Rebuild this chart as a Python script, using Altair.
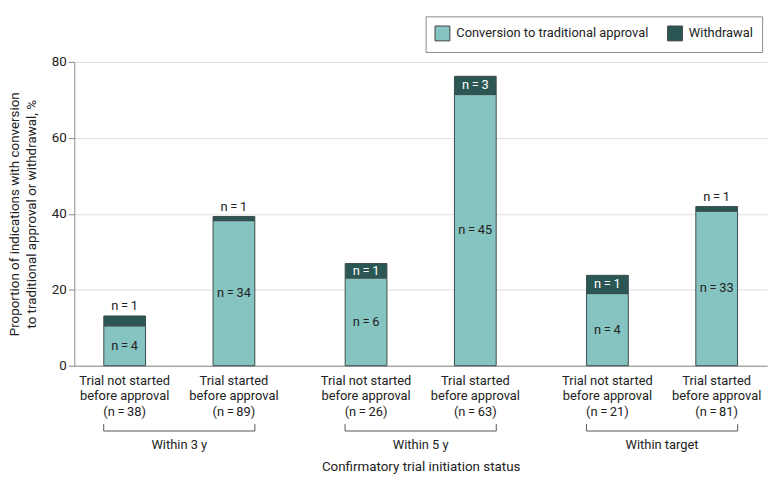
import altair as alt
import pandas as pd

FONT = "Roboto"

groups = ["Within 3 y", "Within 3 y", "Within 5 y", "Within 5 y", "Within target", "Within target"]
status = ["Not started", "Started", "Not started", "Started", "Not started", "Started"]
status_labels = [
    "Trial not started\nbefore approval\n(n\u2009=\u200938)",
    "Trial started\nbefore approval\n(n\u2009=\u200989)",
    "Trial not started\nbefore approval\n(n\u2009=\u200926)",
    "Trial started\nbefore approval\n(n\u2009=\u200963)",
    "Trial not started\nbefore approval\n(n\u2009=\u200921)",
    "Trial started\nbefore approval\n(n\u2009=\u200981)",
]
conversion_pct = [10.5, 38.2, 23.1, 71.4, 19.0, 40.7]
withdrawal_pct = [2.6, 1.1, 3.8, 4.8, 4.8, 1.2]
conversion_n = [4, 34, 6, 45, 4, 33]
withdrawal_n = [1, 1, 1, 3, 1, 1]
withdrawal_label_inside = [False, False, True, True, True, False]

outcomes = ["Conversion to traditional approval", "Withdrawal"]
colors = ["#86C4C1", "#2A5654"]
group_order = ["Within 3 y", "Within 5 y", "Within target"]
status_order = ["Not started", "Started"]

bars = pd.DataFrame({
    "group": groups * 2,
    "status": status * 2,
    "outcome": [outcomes[0]] * 6 + [outcomes[1]] * 6,
    "value": conversion_pct + withdrawal_pct,
    "order": [0] * 6 + [1] * 6,
})

info = pd.DataFrame({
    "group": groups,
    "status": status,
    "label": status_labels,
    "conv": conversion_pct,
    "wd": withdrawal_pct,
    "conv_n": conversion_n,
    "wd_n": withdrawal_n,
    "inside": withdrawal_label_inside,
})

grp = pd.DataFrame({"group": group_order})

TXT = "#222"
FS = 13

x_enc = alt.X("group:N", sort=group_order,
              scale=alt.Scale(paddingInner=0.13, paddingOuter=0),
              axis=alt.Axis(labels=False, ticks=False, domainColor="#8a8a8a",
                            title="Confirmatory trial initiation status",
                            titleFont=FONT, titleFontSize=13.5, titleFontWeight="normal",
                            titleColor=TXT, titleBaseline="middle", titleY=102))
xo_enc = alt.XOffset("status:N", sort=status_order,
                     scale=alt.Scale(paddingInner=0.618, paddingOuter=0.27))

bar_layer = alt.Chart(bars).mark_bar(stroke="#3c4b4b", strokeWidth=1).encode(
    x=x_enc,
    xOffset=xo_enc,
    y=alt.Y("value:Q", stack="zero",
            scale=alt.Scale(domain=[0, 80], nice=False),
            axis=alt.Axis(values=[0, 20, 40, 60, 80], tickSize=6, tickColor="#8a8a8a",
                          domainColor="#8a8a8a", gridColor="#dedede",
                          labelFont=FONT, labelFontSize=13.5, labelColor=TXT, labelPadding=2,
                          title=["Proportion of indications with conversion",
                                 "to traditional approval or withdrawal, %"],
                          titleFont=FONT, titleFontSize=13.5, titleFontWeight="normal",
                          titleColor=TXT, titleLineHeight=17, titleX=-60,
                          titleY=153.5, titleAngle=270, titleBaseline="middle",
                          titleAlign="center")),
    color=alt.Color("outcome:N", sort=outcomes,
                    scale=alt.Scale(domain=outcomes, range=colors),
                    legend=alt.Legend(orient="none", legendX=355, legendY=-46,
                                      direction="horizontal", title=None,
                                      symbolType="square", symbolSize=225,
                                      symbolStrokeColor="#444", symbolStrokeWidth=1,
                                      symbolOpacity=1, labelLimit=0,
                                      strokeColor="#8a8a8a", padding=9, fillColor="white",
                                      labelFont=FONT, labelFontSize=FS, labelColor=TXT,
                                      labelOffset=6, columnPadding=16)),
    order=alt.Order("order:Q"),
)

base = alt.Chart(info).encode(x=alt.X("group:N", sort=group_order),
                              xOffset=alt.XOffset("status:N", sort=status_order))

conv_text = base.transform_calculate(
    ypos="datum.conv / 2",
    txt="'n\u2009=\u2009' + datum.conv_n",
).mark_text(font=FONT, fontSize=FS, color=TXT).encode(
    y="ypos:Q", text="txt:N")

wd_in = base.transform_filter("datum.inside").transform_calculate(
    ypos="datum.conv + datum.wd / 2",
    txt="'n\u2009=\u2009' + datum.wd_n",
).mark_text(font=FONT, fontSize=FS, color="white").encode(
    y="ypos:Q", text="txt:N")

wd_out = base.transform_filter("!datum.inside").transform_calculate(
    ypos="datum.conv + datum.wd",
    txt="'n\u2009=\u2009' + datum.wd_n",
).mark_text(font=FONT, fontSize=FS, color=TXT, baseline="bottom", dy=-3).encode(
    y="ypos:Q", text="txt:N")

cat_text = base.mark_text(font=FONT, fontSize=FS, color=TXT, baseline="top",
                          lineBreak="\n", lineHeight=16).encode(
    y=alt.value(316), text="label:N")

bracket_h = alt.Chart(grp).mark_rule(color="#555", strokeWidth=1).encode(
    x=alt.X("group:N", sort=group_order, bandPosition=0.14),
    x2=alt.X2("group:N", bandPosition=0.86),
    y=alt.value(373),
)
bracket_l = alt.Chart(grp).mark_rule(color="#555", strokeWidth=1).encode(
    x=alt.X("group:N", sort=group_order, bandPosition=0.14),
    y=alt.value(366), y2=alt.value(373),
)
bracket_r = alt.Chart(grp).mark_rule(color="#555", strokeWidth=1).encode(
    x=alt.X("group:N", sort=group_order, bandPosition=0.86),
    y=alt.value(366), y2=alt.value(373),
)
grp_text = alt.Chart(grp).mark_text(font=FONT, fontSize=FS, color=TXT).encode(
    x=alt.X("group:N", sort=group_order, bandPosition=0.5),
    y=alt.value(387), text="group:N")

chart = alt.layer(
    bar_layer, conv_text, wd_in, wd_out, cat_text,
    bracket_h, bracket_l, bracket_r, grp_text,
).properties(
    width=700, height=307,
    autosize=alt.AutoSizeParams(type="none"),
    padding={"left": 67, "top": 52, "right": 5, "bottom": 110},
).configure_view(stroke=None).configure_axis(labelFont=FONT)

chart.save("out.html", embed_options={"renderer": "svg", "actions": False})
